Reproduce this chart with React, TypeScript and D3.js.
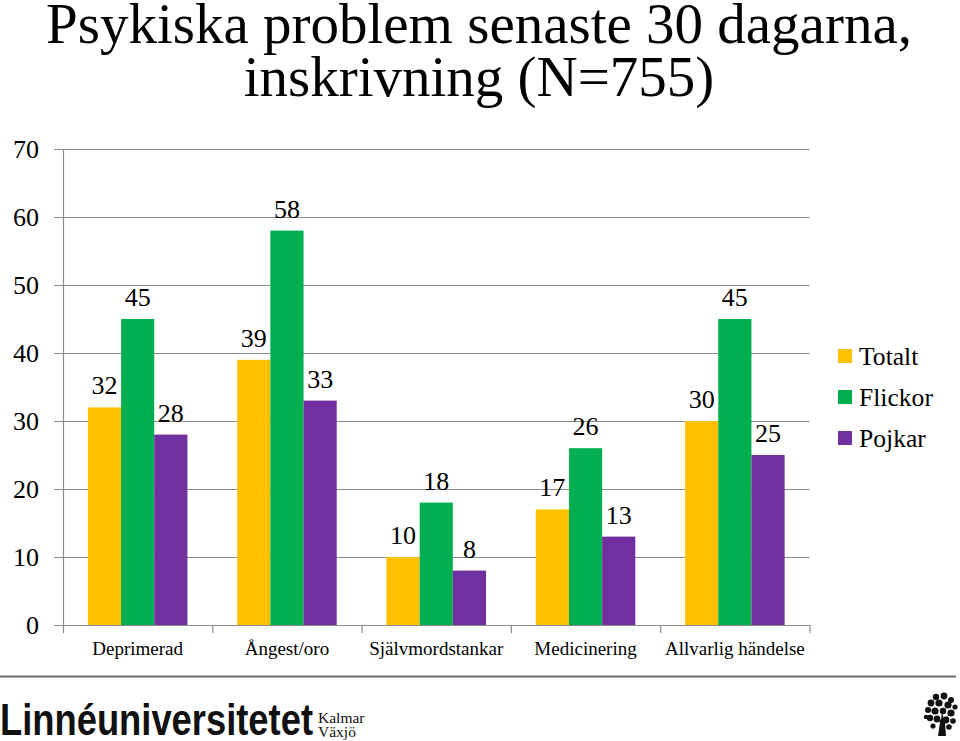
import React from "react";
import * as d3 from "d3";

const categories = ["Deprimerad", "Ångest/oro", "Självmordstankar", "Medicinering", "Allvarlig händelse"];
const seriesNames = ["Totalt", "Flickor", "Pojkar"];
const totalt = [32, 39, 10, 17, 30];
const flickor = [45, 58, 18, 26, 45];
const pojkar = [28, 33, 8, 13, 25];
const yTicks = [0, 10, 20, 30, 40, 50, 60, 70];
const titleLines = ["Psykiska problem senaste 30 dagarna,", "inskrivning (N=755)"];
const colors = ["#FFC000", "#00B050", "#7030A0"];

const W = 960;
const H = 741;
const serif = "'Liberation Serif', 'Times New Roman', Times, serif";

export default function App() {
  const seriesValues = [totalt, flickor, pojkar];
  const plot = { left: 63, right: 809.5, top: 149, bottom: 625 };
  const x = d3.scaleBand<string>().domain(categories).range([plot.left, plot.right]).padding(0);
  const xi = d3
    .scaleBand<string>()
    .domain(seriesNames)
    .range([0, x.bandwidth()])
    .paddingInner(0)
    .paddingOuter(0.75);
  const y = d3.scaleLinear().domain([0, 70]).range([plot.bottom, plot.top]);
  const gridColor = "#8C8C8C";

  const boundaries = [...categories.map((c) => x(c) as number), plot.right];

  const treeDots: [number, number, number][] = [
    [936, 697, 3.2], [944, 696, 3.4], [951, 700, 3], [931, 703, 3.4], [939, 703, 3.6],
    [948, 705, 3.6], [955, 707, 2.6], [928, 710, 3], [935, 711, 3.6], [943, 711, 3.2],
    [951, 713, 3.6], [930, 718, 3.2], [937, 719, 3.4], [946, 720, 3.4], [953, 721, 2.8],
    [933, 726, 2.6], [949, 727, 2.8], [926, 717, 2.2],
  ];

  const labelStyle = { fontFamily: serif, fontSize: "26px" };

  return (
    <svg width={W} height={H} style={{ position: "absolute", left: 0, top: 0, background: "#fff" }}>
      <rect x={0} y={0} width={W} height={H} fill="#fff" />
      {titleLines.map((t, i) => (
        <text key={t} x={479} y={43 + i * 53} textAnchor="middle" style={{ fontFamily: serif, fontSize: "57px" }} fill="#000">
          {t}
        </text>
      ))}

      {yTicks.map((t) => (
        <g key={t}>
          <line
            x1={plot.left - 9}
            x2={plot.right}
            y1={Math.round(y(t)) + 0.5}
            y2={Math.round(y(t)) + 0.5}
            stroke={gridColor}
            strokeWidth={1}
          />
          <text x={39} y={y(t)} dy="0.35em" textAnchor="end" style={labelStyle} fill="#000">
            {t}
          </text>
        </g>
      ))}

      <line x1={plot.left + 0.5} x2={plot.left + 0.5} y1={plot.top} y2={plot.bottom} stroke={gridColor} strokeWidth={1.2} />

      {categories.map((c, ci) => (
        <g key={c}>
          {seriesNames.map((s, si) => {
            const v = seriesValues[si][ci];
            const bx = (x(c) as number) + (xi(s) as number);
            const by = y(v);
            return (
              <g key={s}>
                <rect x={bx} y={by} width={xi.bandwidth()} height={y(0) - by} fill={colors[si]} />
                <text x={bx + xi.bandwidth() / 2} y={by - 13} textAnchor="middle" style={labelStyle} fill="#000">
                  {v}
                </text>
              </g>
            );
          })}
        </g>
      ))}

      <line x1={plot.left - 9} x2={plot.right} y1={plot.bottom + 0.5} y2={plot.bottom + 0.5} stroke={gridColor} strokeWidth={1.2} />
      {boundaries.map((bx, i) => (
        <line key={i} x1={bx + 0.5} x2={bx + 0.5} y1={plot.bottom} y2={plot.bottom + 8} stroke={gridColor} strokeWidth={1.2} />
      ))}
      {categories.map((c) => (
        <text
          key={c}
          x={(x(c) as number) + x.bandwidth() / 2}
          y={655}
          textAnchor="middle"
          style={{ fontFamily: serif, fontSize: "19px" }}
          fill="#000"
        >
          {c}
        </text>
      ))}

      {seriesNames.map((s, i) => (
        <g key={s} transform={`translate(838, ${349 + i * 41})`}>
          <rect x={0} y={0} width={14} height={14} fill={colors[i]} />
          <text x={21} y={16} style={{ fontFamily: serif, fontSize: "25.6px" }} fill="#000">
            {s}
          </text>
        </g>
      ))}

      <line x1={0} x2={956} y1={676.5} y2={676.5} stroke="#6E6E6E" strokeWidth={2} />

      <text
        x={0}
        y={735}
        fontFamily="'Liberation Sans', Arial, Helvetica, sans-serif"
        fontWeight="bold"
        fontSize={44}
        textLength={313}
        lengthAdjust="spacingAndGlyphs"
        fill="#111"
      >
        Linnéuniversitetet
      </text>
      <text x={318} y={723} style={{ fontFamily: serif, fontSize: "15.5px" }} fill="#111">
        Kalmar
      </text>
      <text x={318} y={737} style={{ fontFamily: serif, fontSize: "15.5px" }} fill="#111">
        Växjö
      </text>

      <path d="M938,736 L940,722 L936,716 L941,720 L942,712 L944,720 L948,715 L945,723 L946,736 Z" fill="#111" />
      {treeDots.map(([cx, cy, r], i) => (
        <circle key={i} cx={cx} cy={cy} r={r} fill="#111" />
      ))}
    </svg>
  );
}
